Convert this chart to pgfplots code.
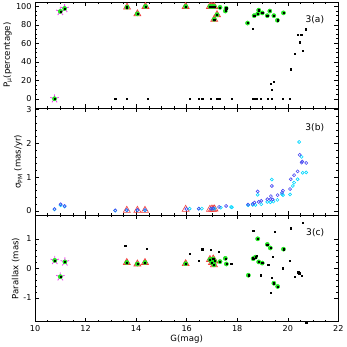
\documentclass[border=0pt]{standalone}
\usepackage{pgfplots}
\pgfplotsset{compat=1.18}
\usepackage{pgfplotstable}
\usepgfplotslibrary{groupplots}
\usepackage{fontspec}
\setmainfont{DejaVu Sans}
\definecolor{starpink}{RGB}{238,70,238}
\definecolor{trired}{RGB}{240,60,60}
\definecolor{trifill}{RGB}{250,165,145}
\definecolor{ptgreen}{RGB}{30,225,30}
\definecolor{pmcyan}{RGB}{0,215,255}
\definecolor{pmblue}{RGB}{70,70,240}

% ---- panel (a): membership probability ----
\pgfplotstableread{
x y
10.77 0
11.00 94.6
11.17 97.8
}\astars
\pgfplotstableread{
x y
13.64 99.2
14.05 92
14.37 100
15.96 100
16.92 100
17.00 100
17.09 100
17.20 91
17.09 86
}\atri
\pgfplotstableread{
x y
17.32 99
17.56 98
17.53 95
18.41 82
18.67 90
18.81 92
18.85 96
18.99 93
19.19 90
19.29 95
19.45 90
19.59 85
19.83 93
}\agreen
\pgfplotstableread{
x y
13.17 0
13.63 0
14.45 0
16.13 0
16.48 0
16.61 0
16.96 0
17.21 0
17.29 0
17.77 0
18.63 0
18.75 0
18.93 0
19.20 0
19.35 0
19.79 0
20.09 0
18.60 76
19.32 16.3
19.45 18.8
19.37 10.1
20.11 31.9
20.27 48.9
20.47 61.2
20.40 69.2
20.53 69.2
20.59 52.2
20.72 75.3
}\ablack

% ---- panel (b): proper motion errors ----
\pgfplotstableread{
x y
10.77 0.06
11.01 0.20
11.17 0.15
13.17 0.02
13.63 0.03
14.05 0.03
14.35 0.03
15.99 0.06
16.48 0.07
16.96 0.07
17.05 0.08
17.28 0.12
17.56 0.15
18.43 0.19
18.61 0.21
18.68 0.25
18.85 0.27
18.95 0.30
18.81 0.58
19.19 0.35
19.31 0.35
19.40 0.34
19.33 0.44
19.37 0.74
19.60 0.47
19.77 0.54
19.81 0.60
20.09 0.65
20.12 0.94
20.25 1.06
20.39 1.17
20.47 1.66
20.57 1.46
20.55 1.43
20.73 1.42
}\bblue
\pgfplotstableread{
x y
10.77 0.05
11.01 0.17
11.17 0.13
13.17 0.01
13.63 0.02
14.05 0.02
14.35 0.02
16.12 0.07
16.48 0.07
16.60 0.07
17.00 0.06
17.10 0.07
17.35 0.10
17.76 0.12
17.79 0.11
18.43 0.17
18.61 0.18
18.72 0.18
18.95 0.20
18.81 0.48
19.19 0.27
19.31 0.26
19.43 0.28
19.37 0.93
19.59 0.33
19.77 0.50
19.81 0.47
20.09 0.49
20.20 0.74
20.25 0.84
20.39 0.94
20.45 2.04
20.55 1.60
20.59 1.13
20.73 1.14
}\bcyan
\pgfplotstableread{
x y
13.63 0.02
14.05 0.02
14.35 0.02
15.96 0.05
16.92 0.05
17.00 0.06
17.05 0.05
17.10 0.06
}\btri

% ---- panel (c): parallax ----
\pgfplotstableread{
x y
10.78 0.27
11.00 -0.28
11.18 0.22
}\cstars
\pgfplotstableread{
x y
13.63 0.20
14.05 0.15
14.35 0.20
15.96 0.16
16.92 0.30
17.05 0.32
17.10 0.25
17.08 0.12
17.00 0.20
}\ctri
\pgfplotstableread{
x y
17.32 0.23
17.53 0.34
17.57 0.15
18.44 -0.23
18.81 1.00
18.63 0.33
18.72 0.38
18.85 0.22
18.99 0.18
19.19 0.81
19.31 0.69
19.83 0.65
19.45 -0.50
19.60 -0.61
}\cgreen
\pgfplotstableread{
x y
13.57 0.78
14.42 0.67
16.12 0.50
16.49 0.25
16.61 0.65
16.96 0.62
17.28 0.56
17.76 0.17
18.63 1.28
18.61 0.37
18.76 0.42
18.93 -0.23
19.23 0.12
19.47 1.24
20.11 1.36
20.59 1.53
19.39 0.39
19.35 -0.31
19.32 -0.83
19.79 0.01
20.09 0.25
20.27 -0.29
20.41 -0.13
20.45 -0.16
20.55 -0.25
20.73 -1.83
}\cblack

\pgfplotsset{
  stars/.style={only marks, mark=star, mark size=4.4pt, mark options={draw=starpink, fill=starpink!35, line width=0.8pt}},
  tris/.style={only marks, mark=triangle*, mark size=4pt, mark options={draw=trired, fill=trifill, line width=0.6pt}},
  htris/.style={only marks, mark=triangle, mark size=4pt, mark options={draw=trired, line width=0.6pt}},
  grn/.style={only marks, mark=*, mark size=2.1pt, mark options={draw=ptgreen, fill=ptgreen}},
  dots/.style={only marks, mark=square*, mark size=0.6pt, mark options={draw=black, fill=black}},
  ocyan/.style={only marks, mark=o, mark size=1.5pt, mark options={draw=pmcyan, line width=0.6pt}},
  oblue/.style={only marks, mark=o, mark size=1.5pt, mark options={draw=pmblue, line width=0.6pt}},
}

\begin{document}
\begin{tikzpicture}[font=\fontsize{8.5}{10}\selectfont]
\begin{groupplot}[
  group style={group size=1 by 3, vertical sep=0pt, xticklabels at=edge bottom},
  scale only axis, width=300pt, height=105.5pt,
  xmin=10, xmax=22, xtick={10,12,...,22}, minor x tick num=3,
  tick align=inside, major tick length=4pt, minor tick length=2pt,
  tick style={black, line width=0.5pt},
  axis line style={line width=0.6pt},
  tick label style={font=\fontsize{8}{9}\selectfont},
  label style={font=\fontsize{8.5}{10}\selectfont},
  /pgf/number format/assume math mode=true,
  ylabel style={yshift=-3pt},
  clip=false,
]
\nextgroupplot[ymin=-10.5, ymax=105, ytick={0,20,...,100}, minor y tick num=3,
  ylabel={P\textsubscript{μ}(percentage)}]
\addplot[stars] table {\astars};
\addplot[tris] table {\atri};
\addplot[grn] table {\astars};
\addplot[grn] table {\atri};
\addplot[grn] table {\agreen};
\addplot[dots] table {\astars};
\addplot[dots] table {\atri};
\addplot[dots] table {\agreen};
\addplot[dots] table {\ablack};
\node[anchor=east, font=\fontsize{9}{10}\selectfont] at (rel axis cs:0.965,0.83) {3(a)};

\nextgroupplot[ymin=-0.12, ymax=3.03, ytick={0,1,2,3}, minor y tick num=4,
  ylabel={σ\textsubscript{PM} (mas/yr)}]
\addplot[htris] table {\btri};
\addplot[ocyan] table {\bcyan};
\addplot[oblue] table {\bblue};
\node[anchor=east, font=\fontsize{9}{10}\selectfont] at (rel axis cs:0.965,0.82) {3(b)};

\nextgroupplot[ymin=-1.8, ymax=1.8, ytick={-1,0,1}, minor y tick num=4,
  ylabel={Parallax (mas)}, xlabel={G(mag)}, xlabel style={yshift=3pt}]
\addplot[stars] table {\cstars};
\addplot[tris] table {\ctri};
\addplot[grn] table {\cstars};
\addplot[grn] table {\ctri};
\addplot[grn] table {\cgreen};
\addplot[dots] table {\cstars};
\addplot[dots] table {\ctri};
\addplot[dots] table {\cgreen};
\addplot[dots] table {\cblack};
\node[anchor=east, font=\fontsize{9}{10}\selectfont] at (rel axis cs:0.965,0.84) {3(c)};
\end{groupplot}
\end{tikzpicture}
\end{document}
